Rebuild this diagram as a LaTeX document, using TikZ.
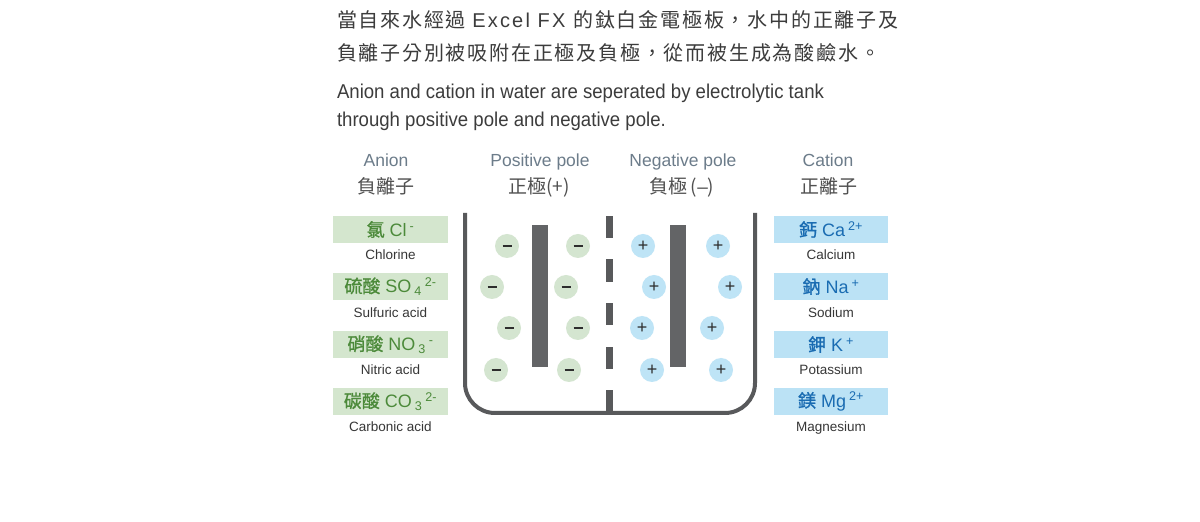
\documentclass[tikz,border=0pt]{standalone}
\usepackage{fontspec}
\setmainfont{Liberation Sans}
\newfontfamily\cjk{Noto Sans CJK TC}
\newfontfamily\cjkmid{Noto Sans CJK TC}[FakeBold=1.2]
\newfontfamily\cjkwide{Noto Sans CJK TC}[LetterSpace=9]
\newfontfamily\sanswide{Liberation Sans}[LetterSpace=11]
\begin{document}
\begin{tikzpicture}[x=1pt,y=1pt,
  anion/.style={circle,fill=anionFill,minimum size=24pt,inner sep=0pt,text=signColor},
  cation/.style={circle,fill=cationFill,minimum size=24pt,inner sep=0pt,text=signColor,font=\fontsize{18}{18}\selectfont},
  headEn/.style={text=headBlue,anchor=base,inner sep=0pt,outer sep=0pt,font=\fontsize{17.5}{17.5}\selectfont},
  headZh/.style={text=headGray,anchor=base,inner sep=0pt,outer sep=0pt,font=\cjk\fontsize{19}{19}\selectfont},
  anionBox/.style={rectangle,fill=anionBoxFill,text=anionText,minimum width=115pt,minimum height=27pt,inner sep=0pt,font=\fontsize{18}{18}\selectfont},
  cationBox/.style={rectangle,fill=cationBoxFill,text=cationText,minimum width=114pt,minimum height=27pt,inner sep=0pt,font=\fontsize{18}{18}\selectfont},
  ionName/.style={text=nameColor,anchor=base,inner sep=0pt,outer sep=0pt,font=\fontsize{13.5}{13.5}\selectfont}]
\definecolor{fillColor}{RGB}{255,255,255}
\definecolor{titleColor}{RGB}{60,60,60}
\definecolor{headBlue}{RGB}{108,124,138}
\definecolor{headGray}{RGB}{80,80,80}
\definecolor{nameColor}{RGB}{55,55,55}
\definecolor{anionBoxFill}{RGB}{212,230,206}
\definecolor{anionText}{RGB}{76,138,58}
\definecolor{cationBoxFill}{RGB}{187,226,245}
\definecolor{cationText}{RGB}{26,108,178}
\definecolor{anionFill}{RGB}{212,229,208}
\definecolor{cationFill}{RGB}{190,228,246}
\definecolor{signColor}{RGB}{45,45,45}
\definecolor{tankColor}{RGB}{88,89,91}
\definecolor{poleColor}{RGB}{99,100,102}
\path[use as bounding box,fill=fillColor] (0,0) rectangle (1200,522);

% title
\node (zh1) [text=titleColor,anchor=base west,inner sep=0pt,outer sep=0pt,font=\fontsize{20}{20}\selectfont] at (337,494)
  {\cjkwide 當自來水經過\ \sanswide Excel FX \cjkwide 的鈦白金電極板，水中的正離子及};
\node (zh2) [text=titleColor,anchor=base west,inner sep=0pt,outer sep=0pt,font=\cjkwide\fontsize{20}{20}\selectfont] at (337,461)
  {負離子分別被吸附在正極及負極，從而被生成為酸鹼水。};
\node (en1) [text=titleColor,anchor=base west,inner sep=0pt,outer sep=0pt,font=\fontsize{20}{20}\selectfont] at (337,423)
  {\scalebox{0.93}[1]{Anion and cation in water are seperated by electrolytic tank}};
\node (en2) [text=titleColor,anchor=base west,inner sep=0pt,outer sep=0pt,font=\fontsize{20}{20}\selectfont] at (337,395)
  {\scalebox{0.93}[1]{through positive pole and negative pole.}};

% column heads
\node (hdAnion) [headEn] at (386,355) {Anion};
\node (hdPos) [headEn] at (540,355) {Positive pole};
\node (hdNeg) [headEn] at (683,355) {Negative pole};
\node (hdCation) [headEn] at (828,355) {Cation};
\node (zhAnion) [headZh] at (386,328) {負離子};
\node (zhPos) [headZh] at (539,328) {正極(+)};
\node (zhNeg) [headZh] at (682,328) {負極\,({\rmfamily –})};
\node (zhCation) [headZh] at (829,328) {正離子};

% anions
\node (boxCl) [anionBox] at (390.5,292.5) {{\cjkmid 氯}\ Cl\,\textsuperscript{-}};
\node (boxSO) [anionBox] at (390.5,235.5) {{\cjkmid 硫酸}\ SO\,\textsubscript{4}\,\textsuperscript{2-}};
\node (boxNO) [anionBox] at (390.5,177.5) {{\cjkmid 硝酸}\ NO\,\textsubscript{3}\,\textsuperscript{-}};
\node (boxCO) [anionBox] at (390.5,120.5) {{\cjkmid 碳酸}\ CO\,\textsubscript{3}\,\textsuperscript{2-}};
\node (nmCl) [ionName] at (390.5,262) {Chlorine};
\node (nmSO) [ionName] at (390.5,204) {Sulfuric acid};
\node (nmNO) [ionName] at (390.5,147) {Nitric acid};
\node (nmCO) [ionName] at (390.5,90) {Carbonic acid};

% cations
\node (boxCa) [cationBox] at (831,292.5) {{\cjkmid 鈣}\ Ca\,\textsuperscript{2+}};
\node (boxNa) [cationBox] at (831,235.5) {{\cjkmid 鈉}\ Na\,\textsuperscript{+}};
\node (boxK) [cationBox] at (831,177.5) {{\cjkmid 鉀}\ K\,\textsuperscript{+}};
\node (boxMg) [cationBox] at (831,120.5) {{\cjkmid 鎂}\ Mg\,\textsuperscript{2+}};
\node (nmCa) [ionName] at (831,262) {Calcium};
\node (nmNa) [ionName] at (831,204) {Sodium};
\node (nmK) [ionName] at (831,147) {Potassium};
\node (nmMg) [ionName] at (831,90) {Magnesium};

% tank
\path[draw=tankColor,line width= 4pt] (465,309) --
	(465,139) arc (180:270:30) --
	(725,109) arc (270:360:30) --
	(755,309);

% membrane
\path[fill=tankColor] (606,284) rectangle (613,306);
\path[fill=tankColor] (606,240) rectangle (613,263);
\path[fill=tankColor] (606,197) rectangle (613,219);
\path[fill=tankColor] (606,153) rectangle (613,175);
\path[fill=tankColor] (606,109) rectangle (613,132);

% poles
\path[fill=poleColor] (532,155) rectangle (548,297);
\path[fill=poleColor] (670,155) rectangle (686,297);

% ions
\node (mA1) [anion] at (507,276) {\rule{9pt}{2pt}};
\node (mA2) [anion] at (578,276) {\rule{9pt}{2pt}};
\node (mA3) [anion] at (492,235) {\rule{9pt}{2pt}};
\node (mA4) [anion] at (566,235) {\rule{9pt}{2pt}};
\node (mA5) [anion] at (509,194) {\rule{9pt}{2pt}};
\node (mA6) [anion] at (578,194) {\rule{9pt}{2pt}};
\node (mA7) [anion] at (496,152) {\rule{9pt}{2pt}};
\node (mA8) [anion] at (569,152) {\rule{9pt}{2pt}};

\node (pC1) [cation] at (643,276) {+};
\node (pC2) [cation] at (718,276) {+};
\node (pC3) [cation] at (654,235) {+};
\node (pC4) [cation] at (730,235) {+};
\node (pC5) [cation] at (642,194) {+};
\node (pC6) [cation] at (712,194) {+};
\node (pC7) [cation] at (652,152) {+};
\node (pC8) [cation] at (721,152) {+};
\end{tikzpicture}
\end{document}
